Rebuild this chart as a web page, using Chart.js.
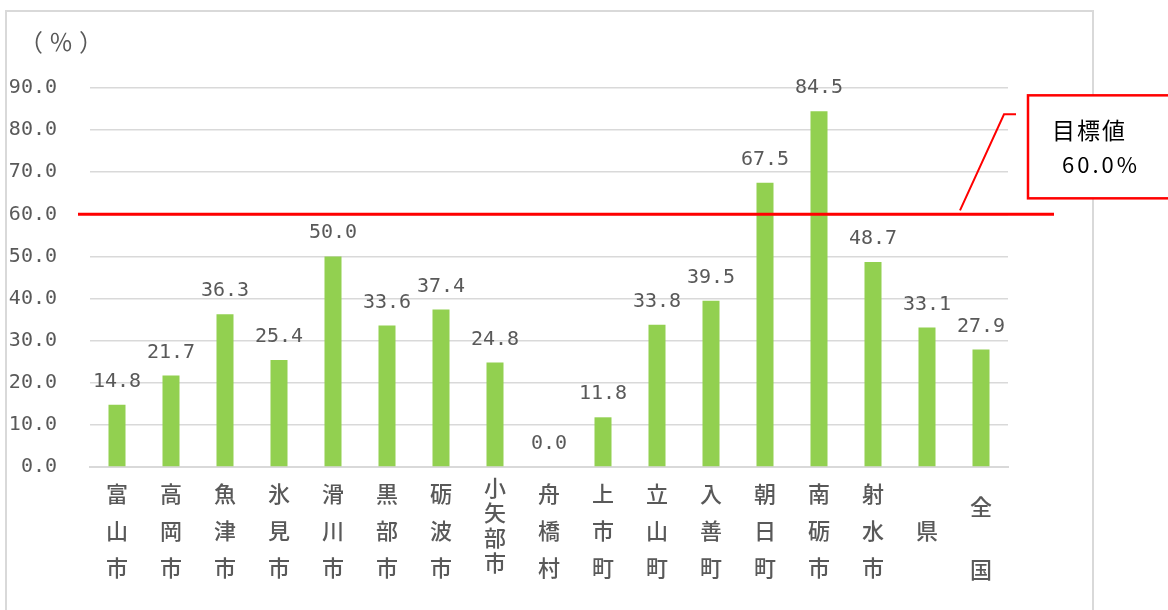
<!DOCTYPE html>
<html lang="ja">
<head>
  <meta charset="UTF-8" />
  <title>目標値比較</title>
  <script src="https://cdn.jsdelivr.net/npm/chart.js"></script>
  <style>
    body { margin: 0; background: #fff; width: 1168px; height: 610px; overflow: hidden; position: relative; }
    #frame { position: absolute; left: 5px; top: 10px; width: 1085px; height: 620px; border: 2px solid #d9d9d9; }
    #chartCanvas { position: absolute; left: 0; top: 0; }
  </style>
</head>
<body>
  <div id="frame"></div>
  <canvas id="chartCanvas" width="1168" height="610"></canvas>

  <script>
    // categories (stacked vertically, one character per line)
    const categories = [
      ['富','山','市'], ['高','岡','市'], ['魚','津','市'], ['氷','見','市'],
      ['滑','川','市'], ['黒','部','市'], ['砺','波','市'], ['小','矢','部','市'],
      ['舟','橋','村'], ['上','市','町'], ['立','山','町'], ['入','善','町'],
      ['朝','日','町'], ['南','砺','市'], ['射','水','市'], ['','県'], ['全','国']
    ];
    const values = [14.8, 21.7, 36.3, 25.4, 50.0, 33.6, 37.4, 24.8, 0.0, 11.8, 33.8, 39.5, 67.5, 84.5, 48.7, 33.1, 27.9];
    const targetValue = 60.0;
    const targetLabel = ['目標値', '60.0%'];
    const unitLabel = '（％）';

    const gray = '#595959';
    const monoFont = '"DejaVu Sans Mono", "Liberation Mono", monospace';
    const jpFont = '"Noto Sans CJK JP", "Noto Sans", sans-serif';

    const overlay = {
      id: 'overlay',
      afterDatasetsDraw(chart) {
        const ctx = chart.ctx;
        const area = chart.chartArea;
        const y = chart.scales.y;
        ctx.save();

        // value labels
        ctx.font = '20px ' + monoFont;
        ctx.fillStyle = gray;
        ctx.textAlign = 'center';
        ctx.textBaseline = 'alphabetic';
        chart.getDatasetMeta(0).data.forEach((bar, i) => {
          ctx.fillText(values[i].toFixed(1), bar.x, bar.y - 18);
        });

        // unit
        ctx.font = '24px ' + jpFont;
        ctx.textAlign = 'left';
        ctx.textBaseline = 'middle';
        ctx.letterSpacing = '6px';
        ctx.fillText(unitLabel, 19, 42);
        ctx.letterSpacing = '0px';

        // target line
        const ty = y.getPixelForValue(targetValue);
        ctx.strokeStyle = '#ff0000';
        ctx.lineWidth = 3;
        ctx.beginPath();
        ctx.moveTo(area.left - 12, ty);
        ctx.lineTo(area.right + 46, ty);
        ctx.stroke();

        // callout leader
        ctx.lineWidth = 2;
        ctx.beginPath();
        ctx.moveTo(area.right - 48, ty - 4);
        ctx.lineTo(area.right - 4, ty - 100);
        ctx.lineTo(area.right + 8, ty - 100);
        ctx.stroke();

        // callout box
        ctx.fillStyle = '#fff';
        ctx.fillRect(area.right + 20, ty - 119, 200, 103);
        ctx.lineWidth = 2.5;
        ctx.strokeRect(area.right + 20, ty - 119, 200, 103);

        ctx.fillStyle = '#000';
        ctx.font = '23px ' + jpFont;
        ctx.letterSpacing = '2px';
        ctx.fillText(targetLabel[0], area.right + 44, ty - 84);
        ctx.letterSpacing = '3px';
        ctx.font = '22px ' + jpFont;
        ctx.fillText(targetLabel[1], area.right + 54, ty - 50);
        ctx.restore();
      }
    };

    function tickFont(ctx) {
      const i = ctx.index;
      let lh = 37;
      if (i === 7) lh = 25;
      if (i === 16) lh = 63;
      return { family: jpFont, size: 22, weight: '500', lineHeight: lh + 'px' };
    }

    new Chart(document.getElementById('chartCanvas'), {
      type: 'bar',
      data: {
        labels: categories,
        datasets: [{
          data: values,
          backgroundColor: '#92d050',
          barPercentage: 0.315,
          categoryPercentage: 1
        }]
      },
      options: {
        responsive: false,
        animation: false,
        devicePixelRatio: 1,
        layout: { padding: { left: 0, right: 160, top: 88, bottom: 0 } },
        plugins: { legend: { display: false }, tooltip: { enabled: false } },
        scales: {
          x: {
            grid: { display: false, drawTicks: false },
            border: { color: '#d9d9d9', width: 2 },
            ticks: { color: gray, padding: 8, maxRotation: 0, autoSkip: false, font: tickFont },
            afterFit(scale) { scale.height = 143; }
          },
          y: {
            min: 0,
            max: 90,
            grid: { color: '#d9d9d9', lineWidth: 1.5, drawTicks: false },
            border: { display: false },
            ticks: {
              stepSize: 10,
              padding: 33,
              color: gray,
              font: { family: monoFont, size: 20 },
              callback: v => v.toFixed(1)
            },
            afterFit(scale) { scale.width = 90; }
          }
        }
      },
      plugins: [overlay]
    });
  </script>
</body>
</html>
